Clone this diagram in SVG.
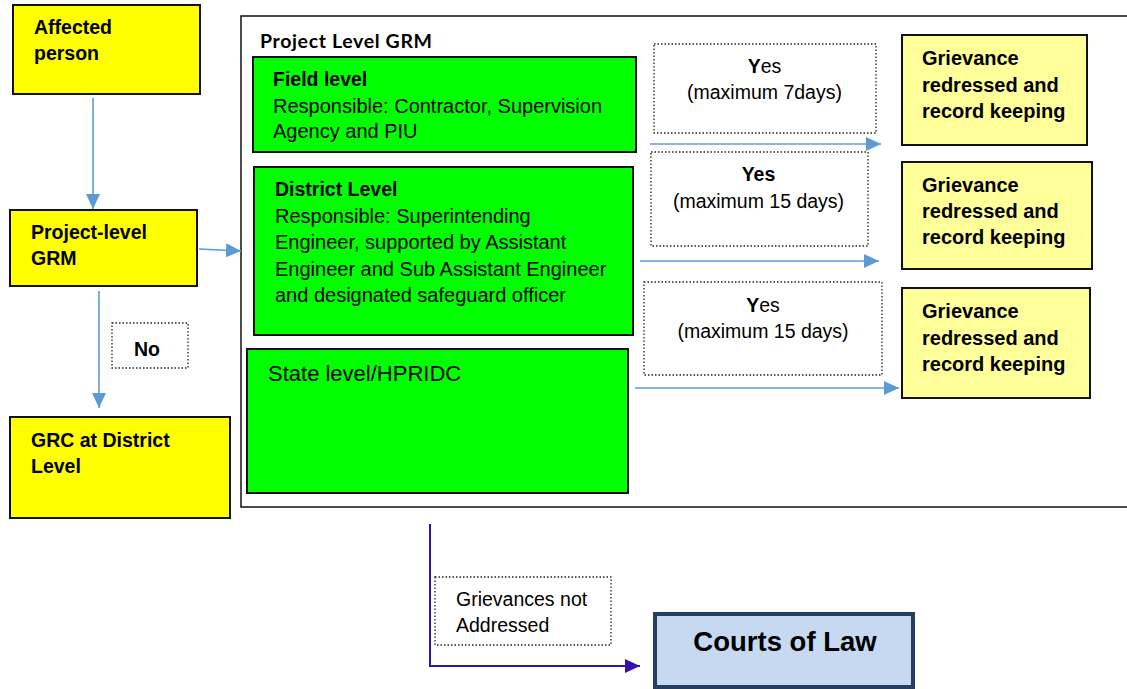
<svg xmlns="http://www.w3.org/2000/svg" width="1127" height="689" viewBox="0 0 1127 689">
<style>
.t{font-family:"Liberation Sans",Arial,sans-serif;font-size:19.5px;fill:#000}
.b{font-weight:bold}
.w{font-size:20px}
.box{stroke:#111;stroke-width:2}
.y{fill:#ffff00}
.g{fill:#00ff00}
.ly{fill:#ffff99}
.dot{fill:#fff;stroke:#222;stroke-width:1.3;stroke-dasharray:1.5 2}
.blue{stroke:#5b9bd5;stroke-width:1.6;fill:none}
.purp{stroke:#3412aa;stroke-width:2;fill:none}
</style>
<defs>
<marker id="ab" markerUnits="userSpaceOnUse" markerWidth="16" markerHeight="14" refX="15" refY="7" orient="auto"><path d="M0,0 L15,7 L0,14 Z" fill="#5b9bd5"/></marker>
<marker id="ap" markerUnits="userSpaceOnUse" markerWidth="16" markerHeight="14" refX="15" refY="7" orient="auto"><path d="M0,0 L15,7 L0,14 Z" fill="#3412aa"/></marker>
</defs>
<rect width="1127" height="689" fill="#fff"/>

<g id="project-level-container">
<rect x="241" y="16" width="890" height="491" fill="#fff" stroke="#111" stroke-width="1.5"/>
<text x="260" y="48" style="font-family:Lato,'Liberation Sans',sans-serif;font-weight:bold;font-size:19.5px" textLength="172">Project Level GRM</text>
</g>

<g id="affected-person">
<rect class="box y" x="13" y="5" width="187" height="89"/>
<text class="t b" x="34" y="34">Affected</text>
<text class="t b" x="34" y="60">person</text>
</g>

<g id="project-level-grm">
<rect class="box y" x="10" y="210" width="187" height="76"/>
<text class="t b" x="31" y="239">Project-level</text>
<text class="t b" x="31" y="265">GRM</text>
</g>

<g id="grc-district">
<rect class="box y" x="10" y="417" width="220" height="101"/>
<text class="t b" x="31" y="447">GRC at District</text>
<text class="t b" x="31" y="473">Level</text>
</g>

<g id="field-level">
<rect class="box g" x="253" y="57" width="383" height="95"/>
<text class="t b" x="273" y="86">Field level</text>
<text class="t w" x="273" y="113">Responsible: Contractor, Supervision</text>
<text class="t w" x="273" y="138">Agency and PIU</text>
</g>

<g id="district-level">
<rect class="box g" x="254" y="167" width="379" height="168"/>
<text class="t b" x="275" y="196">District Level</text>
<text class="t w" x="275" y="223">Responsible: Superintending</text>
<text class="t w" x="275" y="249">Engineer, supported by Assistant</text>
<text class="t w" x="275" y="276">Engineer and Sub Assistant Engineer</text>
<text class="t w" x="275" y="302">and designated safeguard officer</text>
</g>

<g id="state-level">
<rect class="box g" x="247" y="349" width="381" height="144"/>
<text class="t" x="268" y="381" style="font-size:22px">State level/HPRIDC</text>
</g>

<g id="yes1">
<rect class="dot" x="654" y="44" width="222" height="89"/>
<text class="t" x="764.5" y="73" text-anchor="middle"><tspan class="b">Y</tspan>es</text>
<text class="t" x="764.5" y="99" text-anchor="middle">(maximum 7days)</text>
</g>
<g id="yes2">
<rect class="dot" x="651" y="152" width="217" height="94"/>
<text class="t b" x="758.5" y="181" text-anchor="middle">Yes</text>
<text class="t" x="758.5" y="208" text-anchor="middle">(maximum 15 days)</text>
</g>
<g id="yes3">
<rect class="dot" x="644" y="282" width="238" height="93"/>
<text class="t" x="763" y="312" text-anchor="middle"><tspan class="b">Y</tspan>es</text>
<text class="t" x="763" y="338" text-anchor="middle">(maximum 15 days)</text>
</g>

<g id="grievance1">
<rect class="box ly" x="902" y="35" width="185" height="110"/>
<text class="t b w" x="922" y="65">Grievance</text>
<text class="t b w" x="922" y="92">redressed and</text>
<text class="t b w" x="922" y="118">record keeping</text>
</g>
<g id="grievance2">
<rect class="box ly" x="902" y="162" width="190" height="107"/>
<text class="t b w" x="922" y="192">Grievance</text>
<text class="t b w" x="922" y="218">redressed and</text>
<text class="t b w" x="922" y="244">record keeping</text>
</g>
<g id="grievance3">
<rect class="box ly" x="902" y="288" width="188" height="110"/>
<text class="t b w" x="922" y="318">Grievance</text>
<text class="t b w" x="922" y="345">redressed and</text>
<text class="t b w" x="922" y="371">record keeping</text>
</g>

<g id="no-label">
<rect class="dot" x="112" y="323" width="76" height="45"/>
<text class="t b" x="147" y="356" text-anchor="middle">No</text>
</g>

<g id="not-addressed">
<rect class="dot" x="435" y="577" width="176" height="68"/>
<text class="t" x="456" y="606">Grievances not</text>
<text class="t" x="456" y="632">Addressed</text>
</g>

<g id="courts-of-law">
<rect x="655" y="614" width="258" height="73" fill="#c6d9f1" stroke="#243f60" stroke-width="4"/>
<text class="t b" x="785" y="651" text-anchor="middle" style="font-size:27.5px">Courts of Law</text>
</g>

<g id="connectors">
<line class="blue" x1="93" y1="98" x2="93" y2="209" marker-end="url(#ab)"/>
<line class="blue" x1="199" y1="249" x2="241" y2="251" marker-end="url(#ab)"/>
<line class="blue" x1="99" y1="291" x2="99" y2="408" marker-end="url(#ab)"/>
<line class="blue" x1="650" y1="144" x2="881" y2="144" marker-end="url(#ab)"/>
<line class="blue" x1="640" y1="261" x2="879" y2="261" marker-end="url(#ab)"/>
<line class="blue" x1="635" y1="388" x2="899" y2="388" marker-end="url(#ab)"/>
<polyline class="purp" points="430,524 430,666 640,666" marker-end="url(#ap)"/>
</g>
</svg>
